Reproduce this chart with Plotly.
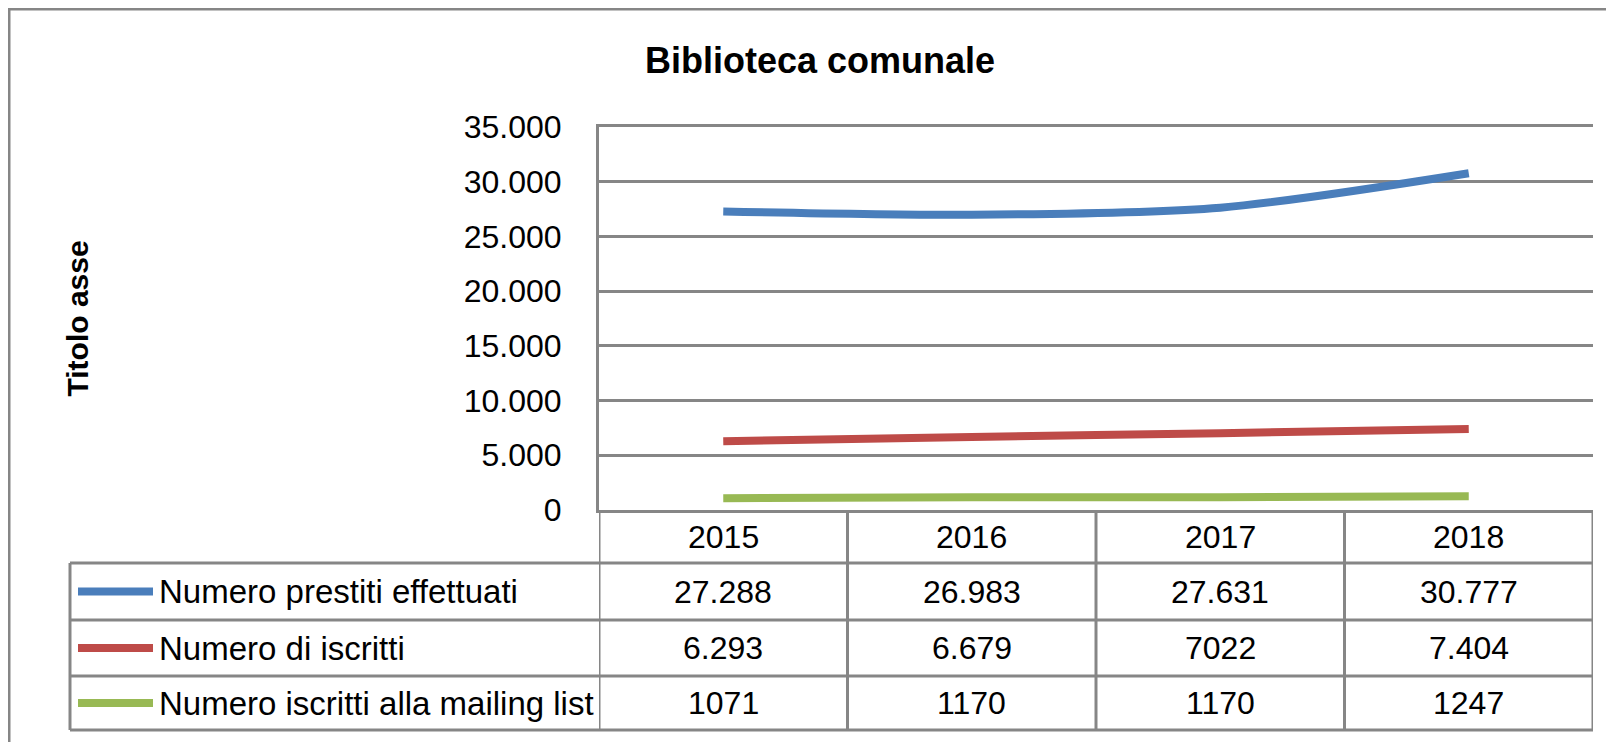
import plotly.graph_objects as go

# data
years = ["2015", "2016", "2017", "2018"]
series_names = [
    "Numero prestiti effettuati",
    "Numero di iscritti",
    "Numero iscritti alla mailing list",
]
prestiti = [27288, 26983, 27631, 30777]
iscritti = [6293, 6679, 7022, 7404]
mailing = [1071, 1170, 1170, 1247]

# cell text as printed in the data table
prestiti_labels = ["27.288", "26.983", "27.631", "30.777"]
iscritti_labels = ["6.293", "6.679", "7022", "7.404"]
mailing_labels = ["1071", "1170", "1170", "1247"]

y_ticks = [0, 5000, 10000, 15000, 20000, 25000, 30000, 35000]

colors = ["#4A7EBB", "#BE4B48", "#98B954"]
grid = "#868686"
FONT = "Liberation Sans"

# the page body adds an 8px margin, so the figure is a bit smaller than the window
OFF = 8
W, H = 1614 - OFF, 742 - OFF
# plot area in window pixels
L, R, T, B = 599, 1593, 127, 510


def px_x(p):
    return (p - L) / (R - L)


def px_y(p):
    return (B - p) / (B - T)


row_edges = [510, 563, 620, 676, 730]

fig = go.Figure()

values = [prestiti, iscritti, mailing]
labels = [prestiti_labels, iscritti_labels, mailing_labels]

for name, vals, col in zip(series_names, values, colors):
    fig.add_trace(go.Scatter(
        x=years, y=vals, name=name, mode="lines",
        line=dict(color=col, width=8, shape="spline", smoothing=0.8),
        showlegend=False,
    ))

shapes = []
line_style = dict(color=grid, width=3)

# outer chart border (only left and top are visible)
shapes.append(dict(type="rect", xref="paper", yref="paper",
                   x0=px_x(9), x1=px_x(1700), y0=px_y(800), y1=px_y(9),
                   line=dict(color=grid, width=3), layer="below"))

# table horizontal lines
for i, ye in enumerate(row_edges):
    if i == 0:
        continue
    shapes.append(dict(type="line", xref="paper", yref="paper",
                       x0=px_x(70), x1=1, y0=px_y(ye), y1=px_y(ye), line=line_style))
# table vertical lines on category boundaries
for k in range(len(years) + 1):
    shapes.append(dict(type="line", xref="x", yref="paper",
                       x0=k - 0.5, x1=k - 0.5, y0=px_y(row_edges[0]), y1=px_y(row_edges[-1]),
                       line=line_style))
shapes.append(dict(type="line", xref="paper", yref="paper",
                   x0=px_x(70), x1=px_x(70), y0=px_y(row_edges[1]), y1=px_y(row_edges[-1]),
                   line=line_style))

annotations = []
# header row
hy = px_y((row_edges[0] + row_edges[1]) / 2)
for i, yr in enumerate(years):
    annotations.append(dict(xref="x", yref="paper", x=i, y=hy, text=yr,
                            xanchor="center", yanchor="middle",
                            showarrow=False, font=dict(size=32, color="black")))

# data rows
for r, (name, labs, col) in enumerate(zip(series_names, labels, colors)):
    cy = px_y((row_edges[r + 1] + row_edges[r + 2]) / 2)
    shapes.append(dict(type="line", xref="paper", yref="paper",
                       x0=px_x(78), x1=px_x(153), y0=cy, y1=cy,
                       line=dict(color=col, width=8)))
    annotations.append(dict(xref="paper", yref="paper", x=px_x(157), y=cy, text=name,
                            xanchor="left", yanchor="middle", showarrow=False,
                            font=dict(size=33, color="black")))
    for i, lab in enumerate(labs):
        annotations.append(dict(xref="x", yref="paper", x=i, y=cy, text=lab,
                                xanchor="center", yanchor="middle",
                                showarrow=False, font=dict(size=32, color="black")))

# y axis title
annotations.append(dict(xref="paper", yref="paper", x=px_x(77), y=0.5,
                        text="<b>Titolo asse</b>", textangle=-90, showarrow=False,
                        xanchor="center", yanchor="middle",
                        font=dict(size=30, color="black")))

fig.update_layout(
    width=W, height=H,
    margin=dict(l=L - OFF, r=W - (R - OFF), t=T - OFF, b=H - (B - OFF)),
    paper_bgcolor="white", plot_bgcolor="white",
    separators=",.",
    font=dict(family=FONT, color="black"),
    title=dict(text="<b>Biblioteca comunale</b>", xref="container", yref="container",
               x=(820 - OFF) / W, y=1 - (60 - OFF) / H, xanchor="center", yanchor="middle",
               font=dict(size=36, color="black", family=FONT)),
    xaxis=dict(type="category", range=[-0.5, 3.5], showticklabels=False,
               showgrid=False, zeroline=False,
               showline=True, mirror=True, linecolor=grid, linewidth=3),
    yaxis=dict(range=[0, 35000], tickvals=y_ticks, tickformat=",d",
               showgrid=True, gridcolor=grid, gridwidth=3,
               zeroline=True, zerolinecolor=grid, zerolinewidth=3,
               showline=True, linecolor=grid, linewidth=3,
               ticks="", ticklabelstandoff=28,
               tickfont=dict(size=32, color="black", family=FONT)),
    shapes=shapes,
    annotations=annotations,
)

fig.write_html("out.html")
